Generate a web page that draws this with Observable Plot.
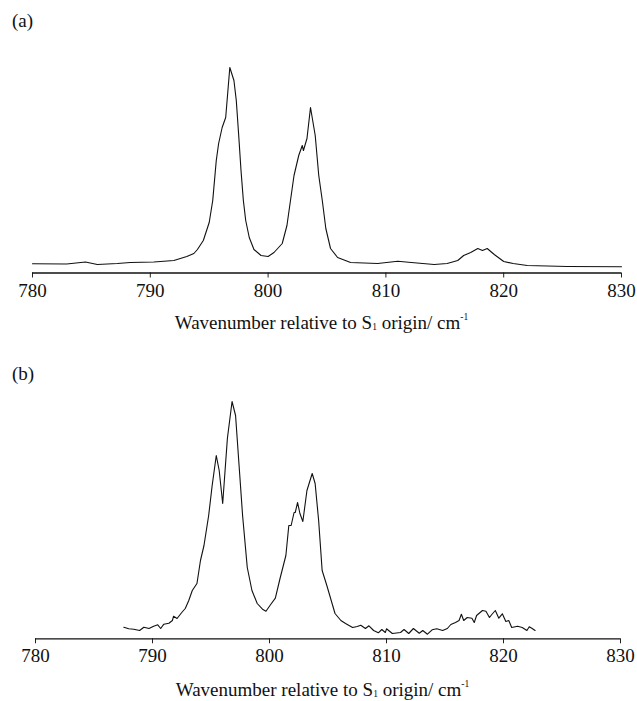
<!DOCTYPE html>
<html>
<head>
<meta charset="utf-8">
<script src="https://cdn.jsdelivr.net/npm/d3@7"></script>
<script src="https://cdn.jsdelivr.net/npm/@observablehq/plot@0.6"></script>
<style>
  html, body { margin: 0; padding: 0; background: #fff; }
  #page { position: relative; width: 637px; height: 701px; font-family: "Liberation Serif", "Times New Roman", serif; color: #111; }
  #page svg, #page svg text { font-family: "Liberation Serif", "Times New Roman", serif !important; }
  .panel { position: absolute; left: 0; }
  .tag { position: absolute; left: 12px; font-size: 19px; line-height: 1; }
  .xlabel { position: absolute; font-size: 19px; line-height: 1; white-space: nowrap; transform: translateX(-50%); }
  .xlabel sub { font-size: 0.5em; vertical-align: -0.1em; }
  .xlabel sup { font-size: 0.5em; vertical-align: 0.9em; }
</style>
</head>
<body>
<div id="page">
  <div class="tag" style="top:11px">(a)</div>
  <div id="pa" class="panel" style="top:0px"></div>
  <div class="xlabel" id="la" style="top:313px">Wavenumber relative to S<sub>1</sub> origin/ cm<sup>-1</sup></div>
  <div class="tag" style="top:364px">(b)</div>
  <div id="pb" class="panel" style="top:330px"></div>
  <div class="xlabel" id="lb" style="top:680px">Wavenumber relative to S<sub>1</sub> origin/ cm<sup>-1</sup></div>
</div>
<script>
// Tick labels
const xTicks = [780, 790, 800, 810, 820, 830];

// Panel (a): wavenumber (cm^-1) and intensity (arb. units)
const waveA = [780.0, 782.9, 784.5, 785.5, 787.2, 788.3, 790.3, 792.0, 793.1, 793.7, 794.0, 794.5, 795.0, 795.3, 795.6, 795.8, 796.1, 796.4, 796.75, 797.1, 797.3, 797.5, 797.7, 797.9, 798.1, 798.4, 798.8, 799.4, 800.0, 800.5, 801.2, 801.6, 802.2, 802.6, 802.9, 803.0, 803.3, 803.6, 804.0, 804.3, 804.6, 804.9, 805.3, 805.9, 807.0, 809.3, 811.0, 812.4, 814.1, 815.2, 816.1, 816.6, 817.2, 817.8, 818.2, 818.6, 819.2, 820.0, 820.8, 822.0, 825.4, 830.0];
const intA  = [9.2, 9.0, 11.0, 8.5, 9.5, 10.5, 11.0, 12.5, 16.5, 19.5, 23.5, 32.5, 50.5, 72.5, 112.5, 129.5, 145.5, 155.5, 205.5, 192.5, 172.5, 138.5, 102.5, 72.5, 52.5, 35.5, 23.5, 17.5, 16.5, 20.5, 29.5, 47.5, 97.5, 117.5, 127.5, 122.5, 134.5, 165.5, 137.5, 97.5, 72.5, 44.5, 24.5, 15.5, 10.5, 9.5, 11.8, 10.2, 8.5, 9.5, 12.5, 17.5, 20.5, 24.5, 22.5, 24.5, 18.5, 11.5, 9.5, 7.5, 6.5, 6.2];

// Panel (b): wavenumber (cm^-1) and intensity (arb. units)
const waveB = [787.55, 787.97, 788.4, 788.9, 789.26, 789.7, 790.1, 790.45, 790.7, 790.97, 791.4, 791.7, 791.8, 792.1, 792.5, 792.8, 793.1, 793.4, 793.8, 794.1, 794.4, 794.8, 795.1, 795.45, 795.7, 796.0, 796.4, 796.8, 797.1, 797.4, 797.7, 798.1, 798.5, 798.95, 799.4, 799.7, 800.1, 800.5, 800.9, 801.4, 801.65, 801.85, 802.1, 802.2, 802.4, 802.6, 802.85, 803.2, 803.65, 803.9, 804.2, 804.5, 804.9, 805.4, 805.6, 806.1, 806.5, 807.1, 807.5, 807.8, 808.2, 808.5, 808.9, 809.3, 809.6, 809.9, 810.0, 810.5, 811.2, 811.5, 811.9, 812.3, 812.8, 813.1, 813.5, 813.9, 814.3, 814.8, 815.2, 815.5, 815.9, 816.2, 816.4, 816.6, 816.9, 817.3, 817.5, 817.7, 818.2, 818.5, 818.8, 819.0, 819.3, 819.6, 819.9, 820.2, 820.45, 820.7, 821.2, 821.6, 822.0, 822.2, 822.45, 822.7];
const intB  = [11.6, 10.0, 9.6, 8.3, 11.6, 10.3, 12.6, 14.0, 10.3, 14.6, 15.6, 18.3, 22.6, 20.3, 26.3, 30.3, 38.3, 48.3, 55.3, 78.3, 93.3, 123.3, 153.3, 183.3, 168.3, 135.3, 200.3, 237.3, 223.3, 173.3, 123.3, 71.3, 48.3, 35.3, 29.6, 27.6, 34.3, 40.6, 60.3, 83.3, 113.3, 113.3, 126.3, 126.3, 136.3, 125.3, 117.3, 148.3, 165.3, 155.3, 118.3, 68.3, 53.3, 33.3, 25.3, 18.3, 15.3, 11.3, 12.3, 13.6, 10.3, 13.0, 8.3, 6.0, 9.3, 6.3, 10.0, 5.3, 6.3, 9.3, 5.3, 10.3, 5.6, 8.3, 4.6, 9.0, 10.0, 8.3, 10.3, 14.3, 16.3, 18.3, 24.6, 18.3, 21.3, 20.6, 16.3, 23.3, 28.3, 27.6, 21.3, 24.3, 28.3, 20.6, 25.0, 17.3, 18.3, 11.3, 12.6, 11.3, 8.3, 12.0, 10.3, 8.3];

const font = "'Liberation Serif', 'Times New Roman', serif";

function panel(wave, inten, opts) {
  const data = wave.map((w, i) => ({w, v: inten[i]}));
  return Plot.plot({
    width: 637,
    height: opts.height,
    marginLeft: opts.ml,
    marginRight: opts.mr,
    marginTop: opts.mt,
    marginBottom: opts.mb,
    style: {fontFamily: font, fontSize: "19px", color: "#111", background: "transparent", overflow: "visible"},
    x: {domain: [780, 830]},
    y: {domain: [0, opts.ymax], axis: null},
    marks: [
      Plot.axisX({ticks: xTicks, tickSize: 5, tickPadding: 5, tickFormat: d => String(d), label: null, fontSize: 19, stroke: "#222", strokeWidth: 1}),
      Plot.ruleY([0], {stroke: "#111", strokeWidth: 1.3}),
      Plot.line(data, {x: "w", y: "v", stroke: "#111", strokeWidth: 1.1, curve: "linear"})
    ]
  });
}

const A = {height: 305, ml: 32, mr: 16, mt: 40, mb: 32.5, ymax: 232.5};
const B = {height: 340, ml: 35, mr: 17, mt: 40, mb: 31.7, ymax: 268.3};
document.getElementById("pa").append(panel(waveA, intA, A));
document.getElementById("pb").append(panel(waveB, intB, B));
document.getElementById("la").style.left = ((A.ml + 637 - A.mr) / 2 - 5) + "px";
document.getElementById("lb").style.left = ((B.ml + 637 - B.mr) / 2 - 5) + "px";
</script>
</body>
</html>
